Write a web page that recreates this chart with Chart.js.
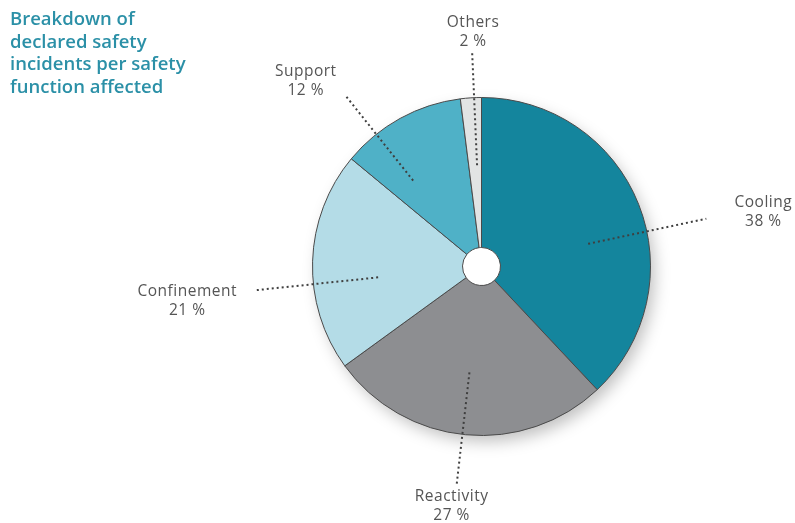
<!DOCTYPE html>
<html>
<head>
<meta charset="utf-8">
<script src="https://cdn.jsdelivr.net/npm/chart.js@4"></script>
<style>
  html, body { margin: 0; padding: 0; background: #fff; }
  #wrap { position: relative; width: 795px; height: 523px; }
  #titre {
    position: absolute; left: 10px; top: 7px;
    font-family: 'Open Sans', sans-serif; font-weight: 600;
    font-size: 18.5px; line-height: 22.5px; color: #2b90a7;
  }
</style>
</head>
<body>
<div id="wrap">
  <canvas id="pieChart" width="795" height="523"></canvas>
  <div id="titre">Breakdown of<br>declared safety<br>incidents per safety<br>function affected</div>
</div>
<script>
// Données du graphique
const categories = ['Cooling', 'Reactivity', 'Confinement', 'Support', 'Others'];
const shares = [38, 27, 21, 12, 2];
const sliceColours = ['#14859d', '#8d8e91', '#b4dce7', '#4fb1c7', '#e2e4e4'];

// Traits pointillés : angle (degrés depuis midi, sens horaire), rayon intérieur / extérieur (fraction du rayon)
const leaders = [
  { angle: 78,    r1: 0.645, r2: 1.36, dx: 57, dy: -16 },
  { angle: 186.5, r1: 0.63,  r2: 1.30, dx: -5, dy: 12 },
  { angle: 264,   r1: 0.615, r2: 1.34, dx: -69, dy: 1 },
  { angle: 321.5, r1: 0.65,  r2: 1.30, dx: -39, dy: -23 },
  { angle: 357.5, r1: 0.60,  r2: 1.28, dx: 1, dy: -28 }
];

// Ombre douce sous le camembert (un seul disque, dessiné avant les parts)
const pieShadow = {
  id: 'pieShadow',
  beforeDatasetsDraw(chart) {
    const ctx = chart.ctx;
    const arc = chart.getDatasetMeta(0).data[0];
    ctx.save();
    ctx.shadowColor = 'rgba(0,0,0,0.25)';
    ctx.shadowBlur = 16;
    ctx.shadowOffsetX = 5;
    ctx.shadowOffsetY = 7;
    ctx.fillStyle = '#fff';
    ctx.beginPath();
    ctx.arc(arc.x, arc.y, arc.outerRadius - 1, 0, Math.PI * 2);
    ctx.fill();
    ctx.restore();
  }
};

// Plugin pour dessiner les étiquettes et les lignes
const leaderLabels = {
  id: 'leaderLabels',
  afterDraw(chart) {
    const ctx = chart.ctx;
    const arc = chart.getDatasetMeta(0).data[0];
    const cx = arc.x, cy = arc.y, R = arc.outerRadius;
    ctx.save();
    categories.forEach((cat, i) => {
      const l = leaders[i];
      const a = (l.angle - 90) * Math.PI / 180;
      const x1 = cx + R * l.r1 * Math.cos(a), y1 = cy + R * l.r1 * Math.sin(a);
      const x2 = cx + R * l.r2 * Math.cos(a), y2 = cy + R * l.r2 * Math.sin(a);
      ctx.beginPath();
      ctx.setLineDash([2, 3]);
      ctx.lineWidth = 2;
      ctx.strokeStyle = '#3f3f3f';
      ctx.moveTo(x1, y1);
      ctx.lineTo(x2, y2);
      ctx.stroke();
      ctx.setLineDash([]);
      ctx.fillStyle = '#555';
      ctx.font = '15.5px "Open Sans"';
      ctx.letterSpacing = '0.5px';
      ctx.textAlign = 'center';
      ctx.textBaseline = 'middle';
      ctx.fillText(cat, x2 + l.dx, y2 + l.dy);
      ctx.fillText(shares[i] + ' %', x2 + l.dx, y2 + l.dy + 19);
    });
    ctx.restore();
  }
};

let myChart;

function initChart() {
  const ctx = document.getElementById('pieChart').getContext('2d');
  if (myChart) { myChart.destroy(); }

  myChart = new Chart(ctx, {
    type: 'doughnut',
    data: {
      labels: categories,
      datasets: [{
        data: shares,
        backgroundColor: sliceColours,
        borderColor: '#4a4a4a',
        borderWidth: 1
      }]
    },
    options: {
      responsive: false,
      animation: false,
      cutout: 19,
      layout: { padding: { left: 312, right: 144, top: 97, bottom: 87 } },
      plugins: {
        legend: { display: false },
        tooltip: { enabled: false }
      }
    },
    plugins: [pieShadow, leaderLabels]
  });
}

window.onload = function() {
  initChart();
};
</script>
</body>
</html>
